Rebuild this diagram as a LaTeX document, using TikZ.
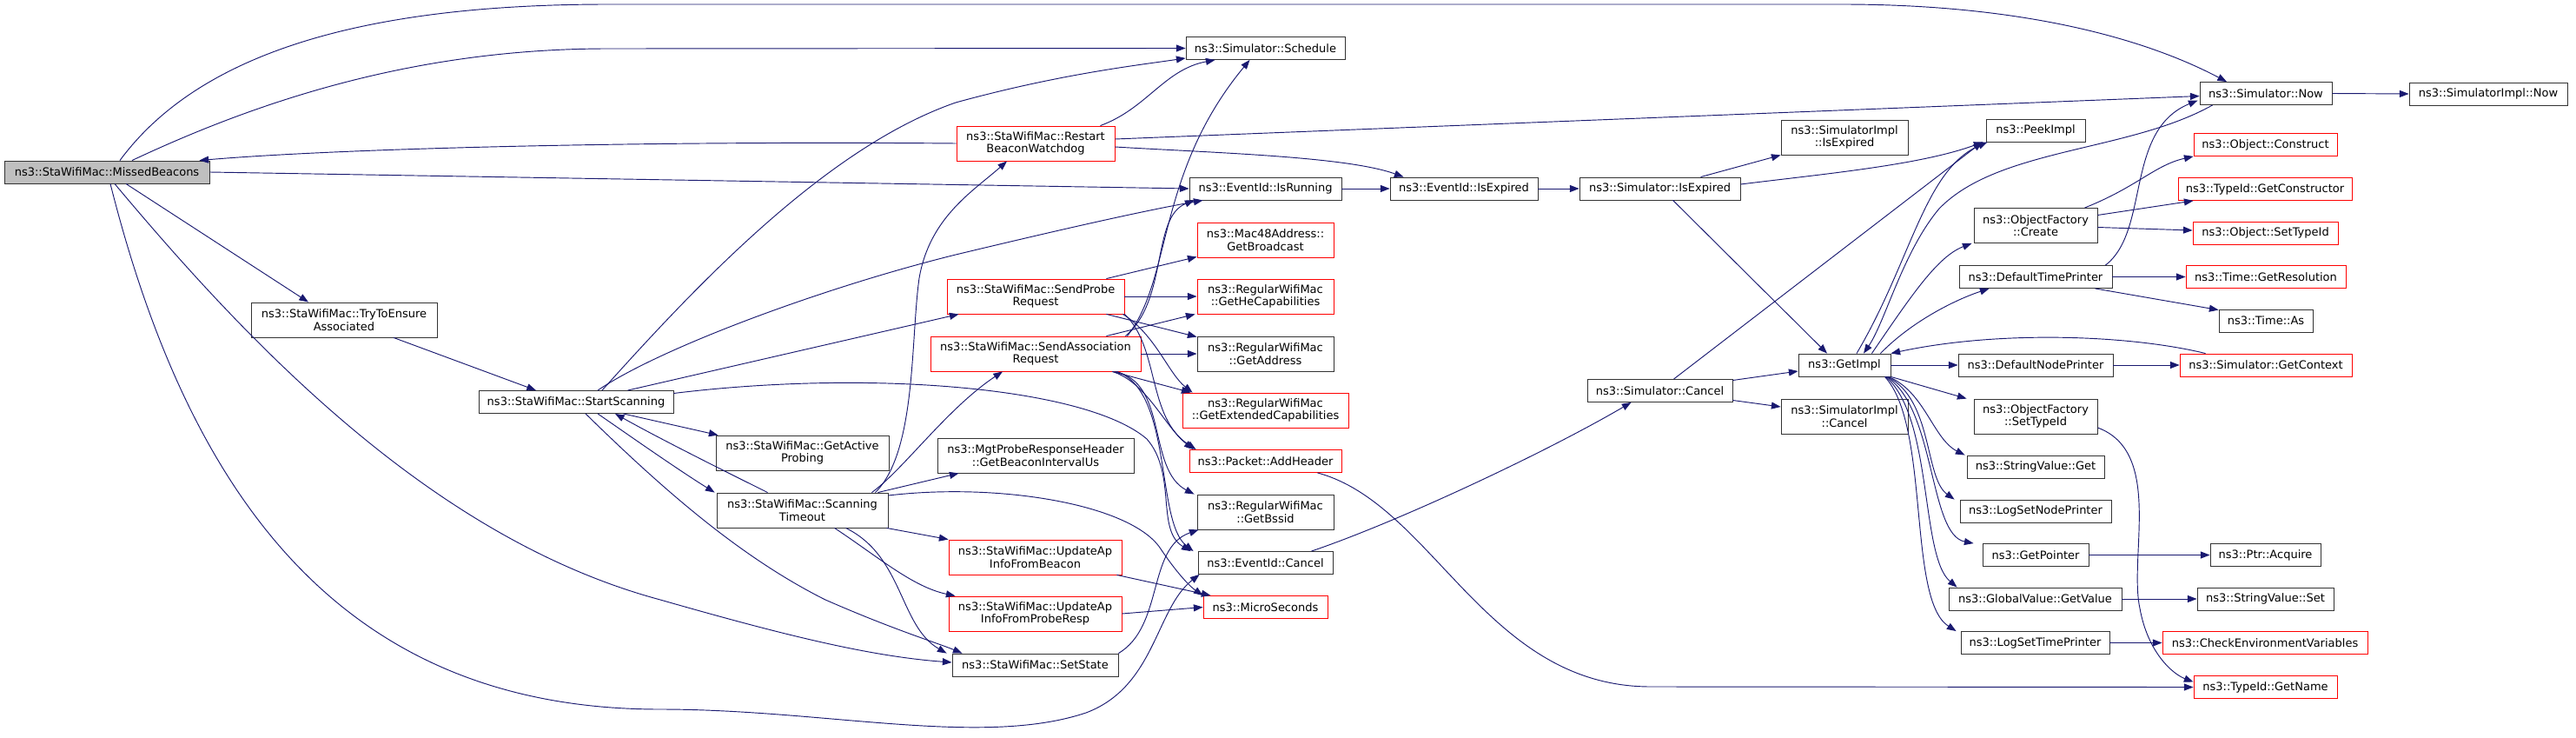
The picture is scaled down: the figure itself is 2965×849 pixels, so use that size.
\documentclass[tikz,border=0pt]{standalone}
\usepackage{fontspec}
\setmainfont{DejaVu Sans}
\usepackage{tikz}
\usetikzlibrary{calc,arrows.meta}
\definecolor{callx}{HTML}{191970}
\definecolor{redx}{HTML}{FF0000}
\definecolor{grayx}{HTML}{BFBFBF}
\definecolor{framex}{HTML}{333333}
\tikzset{
  fn/.style={draw=framex,line width=0.65pt,rectangle,fill=white,inner sep=0pt,align=center,
    font=\fontsize{9.75}{11}\selectfont,minimum height=19.5pt},
  fnr/.style={fn,draw=redx},
  fng/.style={fn,fill=grayx},
  two/.style={minimum height=30pt},
  wd/.style={minimum width=#1*0.75pt},
  cl/.style={-{Triangle[length=8pt,width=6pt]},line width=0.7pt,callx}
}

\begin{document}
\begin{tikzpicture}[x=0.75pt,y=-0.75pt]
\fill[white] (0,0) rectangle (2965,849);
\useasboundingbox (0,0) rectangle (2965,849);

% StaWifiMac side
\node[fng,wd=236] (mb) at (123,198) {ns3::StaWifiMac::MissedBeacons};
\node[fn,two,wd=214] (tte) at (396,368) {ns3::StaWifiMac::TryToEnsure\\Associated};
\node[fn,wd=224] (ss) at (663,462.5) {ns3::StaWifiMac::StartScanning};
\node[fn,two,wd=199] (gap) at (923.5,521) {ns3::StaWifiMac::GetActive\\Probing};
\node[fn,two,wd=197] (st) at (923.5,587) {ns3::StaWifiMac::Scanning\\Timeout};
\node[fn,wd=191] (setst) at (1191.5,765) {ns3::StaWifiMac::SetState};
\node[fnr,two,wd=182] (rbw) at (1192,165) {ns3::StaWifiMac::Restart\\BeaconWatchdog};
\node[fnr,two,wd=204] (spr) at (1192,341) {ns3::StaWifiMac::SendProbe\\Request};
\node[fnr,two,wd=242] (sar) at (1192,407) {ns3::StaWifiMac::SendAssociation\\Request};
\node[fn,two,wd=226] (gbi) at (1192,524) {ns3::MgtProbeResponseHeader\\::GetBeaconIntervalUs};
\node[fnr,two,wd=199] (uab) at (1191.5,641) {ns3::StaWifiMac::UpdateAp\\InfoFromBeacon};
\node[fnr,two,wd=199] (uapr) at (1191.5,706) {ns3::StaWifiMac::UpdateAp\\InfoFromProbeResp};

% callee column
\node[fn,wd=183] (sched) at (1456.5,55.5) {ns3::Simulator::Schedule};
\node[fn,wd=175] (isrun) at (1456.5,217) {ns3::EventId::IsRunning};
\node[fnr,two,wd=157] (bcast) at (1456.5,276) {ns3::Mac48Address::\\GetBroadcast};
\node[fnr,two,wd=157] (hecap) at (1456.5,341) {ns3::RegularWifiMac\\::GetHeCapabilities};
\node[fn,two,wd=157] (addr) at (1456.5,407) {ns3::RegularWifiMac\\::GetAddress};
\node[fnr,two,wd=191] (extcap) at (1456.5,472) {ns3::RegularWifiMac\\::GetExtendedCapabilities};
\node[fnr,wd=175] (addhdr) at (1456.5,530.5) {ns3::Packet::AddHeader};
\node[fn,two,wd=157] (bssid) at (1456.5,589) {ns3::RegularWifiMac\\::GetBssid};
\node[fn,wd=155] (cancel) at (1456.5,647.5) {ns3::EventId::Cancel};
\node[fnr,wd=143] (micro) at (1456.5,698.5) {ns3::MicroSeconds};

% simulator
\node[fn,wd=170] (eie) at (1685,217) {ns3::EventId::IsExpired};
\node[fn,wd=185] (sie) at (1910.5,217) {ns3::Simulator::IsExpired};
\node[fn,two,wd=146] (siie) at (2123,158) {ns3::SimulatorImpl\\::IsExpired};
\node[fn,wd=167] (scancel) at (1910.5,449.5) {ns3::Simulator::Cancel};
\node[fn,two,wd=146] (sicancel) at (2123,479) {ns3::SimulatorImpl\\::Cancel};
\node[fn,wd=106] (getimpl) at (2123,420) {ns3::GetImpl};
\node[fn,wd=152] (now) at (2608,107.5) {ns3::Simulator::Now};
\node[fn,wd=182] (inow) at (2864,108) {ns3::SimulatorImpl::Now};
\node[fn,wd=114] (peek) at (2343,150) {ns3::PeekImpl};
\node[fnr,wd=165] (construct) at (2607.5,166.5) {ns3::Object::Construct};
\node[fnr,wd=200] (getctor) at (2607,217.5) {ns3::TypeId::GetConstructor};
\node[fn,two,wd=142] (create) at (2343,259.5) {ns3::ObjectFactory\\::Create};
\node[fnr,wd=167] (osettid) at (2607.5,268) {ns3::Object::SetTypeId};
\node[fn,wd=176] (dtp) at (2343,318.5) {ns3::DefaultTimePrinter};
\node[fnr,wd=184] (getres) at (2608,318.5) {ns3::Time::GetResolution};
\node[fn,wd=108] (timeas) at (2608,369) {ns3::Time::As};
\node[fn,wd=178] (dnp) at (2343,420) {ns3::DefaultNodePrinter};
\node[fnr,wd=198] (getctx) at (2608,420) {ns3::Simulator::GetContext};
\node[fn,two,wd=142] (ofsettid) at (2343,479) {ns3::ObjectFactory\\::SetTypeId};
\node[fn,wd=158] (svget) at (2343,537) {ns3::StringValue::Get};
\node[fn,wd=174] (lsnp) at (2343,588) {ns3::LogSetNodePrinter};
\node[fn,wd=122] (getptr) at (2343,638.5) {ns3::GetPointer};
\node[fn,wd=127] (acquire) at (2607.5,638.5) {ns3::Ptr::Acquire};
\node[fn,wd=199] (gvget) at (2342.5,689) {ns3::GlobalValue::GetValue};
\node[fn,wd=157] (svset) at (2607.5,689) {ns3::StringValue::Set};
\node[fn,wd=171] (lstp) at (2342.5,739.5) {ns3::LogSetTimePrinter};
\node[fnr,wd=236] (checkenv) at (2607,739.5) {ns3::CheckEnvironmentVariables};
\node[fnr,wd=165] (getname) at (2607.5,790.5) {ns3::TypeId::GetName};

% calls of MissedBeacons
\draw[cl] ($(mb.north)+(15,0)$) .. controls (230,60) and (420,5) .. (700,5) -- (2120,5) .. controls (2330,5) and (2470,45) .. ($(now.north)+(-45,0)$);
\draw[cl] ($(mb.north)+(29,0)$) .. controls (300,115) and (480,56) .. (700,56) -- (sched.west);
\draw[cl] (rbw.west) .. controls (760,162) and (400,170) .. ($(mb.north east)+(-12,0)$);
\draw[cl] (mb.east) -- (isrun.west);
\draw[cl] ($(mb.south)+(22,0)$) -- ($(tte.north)+(-41,0)$);
\draw[cl] ($(mb.south)+(9,0)$) .. controls (290,400) and (500,620) .. (760,690) .. controls (900,730) and (1000,755) .. ($(setst.west)+(0,-3)$);
\draw[cl] ($(mb.south)+(4,0)$) .. controls (220,580) and (400,816) .. (760,816) .. controls (950,816) and (1130,860) .. (1250,820) .. controls (1330,790) and (1330,700) .. ($(cancel.south west)+(2,0)$);
\draw[cl] ($(tte.south)+(57,0)$) -- ($(ss.north)+(-46,0)$);

% calls of StartScanning
\draw[cl] ($(ss.north)+(30,0)$) .. controls (800,330) and (950,170) .. (1100,118) .. controls (1220,85) and (1310,75) .. ($(sched.south west)+(0,-2)$);
\draw[cl] ($(ss.north)+(25,0)$) .. controls (760,400) and (950,330) .. (1100,293) .. controls (1250,257) and (1330,240) .. ($(isrun.south west)+(16,0)$);
\draw[cl] ($(ss.north east)+(-53,0)$) -- ($(spr.south west)+(14,0)$);
\draw[cl] ($(ss.south east)+(-58,0)$) -- ($(gap.north west)+(3,0)$);
\draw[cl] ($(ss.south)+(25,0)$) .. controls (730,505) and (780,540) .. ($(st.north west)+(-2,0)$);
\draw[cl] ($(ss.south)+(11,0)$) .. controls (760,560) and (850,640) .. (950,690) .. controls (1030,725) and (1080,740) .. ($(setst.north west)+(12,0)$);
\draw[cl] ($(ss.east)+(0,-10)$) .. controls (1000,425) and (1250,445) .. (1320,505) .. controls (1355,545) and (1330,610) .. ($(cancel.north west)+(-8,0)$);

% calls of ScanningTimeout
\draw[cl] ($(st.north west)+(59,0)$) .. controls (830,540) and (760,505) .. ($(ss.south)+(45,0)$);
\draw[cl] ($(st.south)+(50,0)$) .. controls (1040,640) and (1035,720) .. ($(setst.north west)+(-6,0)$);
\draw[cl] ($(st.south)+(37,0)$) .. controls (1010,640) and (1050,675) .. ($(uapr.north west)+(8,0)$);
\draw[cl] ($(st.south east)+(-2,0)$) -- (uab.north west);
\draw[cl] ($(st.north east)+(-12,0)$) -- ($(gbi.south west)+(25,0)$);
\draw[cl] ($(st.east)+(0,-17)$) .. controls (1150,555) and (1300,580) .. (1335,630) .. controls (1355,660) and (1370,675) .. (micro.north west);
\draw[cl] ($(st.north east)+(-19,0)$) .. controls (1040,540) and (1090,470) .. ($(sar.south)+(-38,0)$);
\draw[cl] ($(st.north east)+(-15,0)$) .. controls (1055,520) and (1048,390) .. (1058,320) .. controls (1070,250) and (1120,220) .. ($(rbw.south)+(-33,0)$);

% calls of RestartBeaconWatchdog
\draw[cl] ($(rbw.north east)+(-17,0)$) .. controls (1320,125) and (1340,80) .. ($(sched.south west)+(34,0)$);
\draw[cl] ($(rbw.east)+(0,-5)$) -- ($(now.west)+(0,3)$);
\draw[cl] ($(rbw.east)+(0,4)$) .. controls (1400,176) and (1550,180) .. ($(eie.north west)+(16,0)$);

% calls of SendProbeRequest and SendAssociationRequest
\draw[cl] ($(spr.north east)+(-21,0)$) -- ($(bcast.south west)+(0,-1)$);
\draw[cl] (spr.east) -- (hecap.west);
\draw[cl] ($(spr.south east)+(-21,0)$) -- ($(addr.north west)+(0,1)$);
\draw[cl] ($(spr.south east)+(-2,0)$) .. controls (1330,385) and (1345,430) .. ($(extcap.north west)+(12,0)$);
\draw[cl] (spr.south east) .. controls (1335,400) and (1320,480) .. ($(addhdr.north west)+(8,0)$);
\draw[cl] ($(sar.north east)+(-40,0)$) -- ($(hecap.south west)+(-2,0)$);
\draw[cl] (sar.east) -- (addr.west);
\draw[cl] ($(sar.south east)+(-33,0)$) -- ($(extcap.north west)+(10,0)$);
\draw[cl] ($(sar.south east)+(-33,0)$) .. controls (1320,440) and (1340,490) .. ($(addhdr.north west)+(5,0)$);
\draw[cl] ($(sar.south east)+(-30,0)$) .. controls (1345,440) and (1320,540) .. ($(bssid.north west)+(-3,0)$);
\draw[cl] ($(sar.south east)+(-28,0)$) .. controls (1350,450) and (1330,600) .. ($(cancel.north west)+(-5,0)$);
\draw[cl] ($(sar.north east)+(-18,0)$) .. controls (1345,345) and (1325,250) .. ($(isrun.south west)+(6,0)$);
\draw[cl] ($(sar.north east)+(-16,0)$) .. controls (1350,320) and (1330,200) .. ($(sched.south)+(-18,0)$);

\draw[cl] ($(uab.south east)+(-6,0)$) -- ($(micro.north west)+(9,0)$);
\draw[cl] (uapr.east) -- (micro.west);
\draw[cl] (setst.north east) .. controls (1340,720) and (1320,630) .. ($(bssid.south west)+(2,0)$);

% simulator calls
\draw[cl] (isrun.east) -- (eie.west);
\draw[cl] (eie.east) -- (sie.west);
\draw[cl] ($(sie.north)+(47,0)$) -- (siie.south west);
\draw[cl] ($(sie.east)+(0,-5)$) .. controls (2100,200) and (2210,190) .. ($(peek.south west)+(-3,0)$);
\draw[cl] ($(sie.south)+(15,0)$) -- ($(getimpl.north)+(-20,0)$);
\draw[cl] ($(cancel.north east)+(-25,0)$) .. controls (1610,600) and (1780,520) .. ($(scancel.south)+(-33,0)$);
\draw[cl] ($(scancel.east)+(0,-12)$) -- ($(getimpl.west)+(0,7)$);
\draw[cl] ($(scancel.east)+(0,11)$) -- ($(sicancel.west)+(0,-11)$);
\draw[cl] ($(scancel.north)+(16,0)$) -- ($(peek.south west)+(-4,0)$);
\draw[cl] ($(getimpl.north)+(14,0)$) .. controls (2200,300) and (2215,195) .. ($(peek.south west)+(2,0)$);
\draw[cl] ($(now.south west)+(15,0)$) .. controls (2450,175) and (2300,170) .. (2232,240) .. controls (2190,290) and (2170,370) .. ($(getimpl.north)+(22,0)$);
\draw[cl] ($(getimpl.north east)+(-22,0)$) .. controls (2200,340) and (2230,295) .. ($(create.south west)+(-2,0)$);
\draw[cl] ($(getimpl.north east)+(-12,0)$) .. controls (2200,370) and (2250,345) .. ($(dtp.south west)+(35,0)$);
\draw[cl] (getimpl.east) -- (dnp.west);
\draw[cl] ($(getctx.north west)+(30,0)$) .. controls (2450,385) and (2300,380) .. (getimpl.north east);
\draw[cl] (dnp.east) -- (getctx.west);
\draw[cl] (getimpl.south east) -- ($(ofsettid.north west)+(-8,0)$);
\draw[cl] ($(getimpl.south east)+(-3,0)$) .. controls (2215,450) and (2225,505) .. ($(svget.north west)+(-2,0)$);
\draw[cl] ($(getimpl.south east)+(-4,0)$) .. controls (2225,460) and (2215,550) .. ($(lsnp.north west)+(-6,0)$);
\draw[cl] ($(getimpl.south east)+(-5,0)$) .. controls (2228,470) and (2220,615) .. ($(getptr.north west)+(-10,0)$);
\draw[cl] ($(getimpl.south east)+(-6,0)$) .. controls (2225,480) and (2210,640) .. ($(gvget.north west)+(10,0)$);
\draw[cl] ($(getimpl.south east)+(-7,0)$) .. controls (2222,490) and (2195,690) .. ($(lstp.north west)+(-5,0)$);
\draw[cl] ($(create.north east)+(-15,0)$) .. controls (2460,215) and (2480,190) .. (construct.south west);
\draw[cl] ($(create.east)+(0,-12)$) -- ($(getctor.south west)+(18,0)$);
\draw[cl] ($(create.east)+(0,2)$) -- ($(osettid.west)+(0,-3)$);
\draw[cl] ($(dtp.north east)+(-8,0)$) .. controls (2475,265) and (2445,150) .. ($(now.west)+(-2,8)$);
\draw[cl] (dtp.east) -- (getres.west);
\draw[cl] ($(dtp.south east)+(-20,0)$) -- ($(timeas.north west)+(0,1)$);
\draw[cl] ($(ofsettid.east)+(0,13)$) .. controls (2490,520) and (2450,640) .. (2463,700) .. controls (2472,750) and (2500,775) .. ($(getname.west)+(0,-6)$);
\draw[cl] ($(addhdr.south east)+(-28,0)$) .. controls (1650,580) and (1710,790) .. (1900,790) -- (getname.west);
\draw[cl] (getptr.east) -- (acquire.west);
\draw[cl] (gvget.east) -- (svset.west);
\draw[cl] (lstp.east) -- (checkenv.west);
\draw[cl] (now.east) -- (inow.west);
\end{tikzpicture}
\end{document}
